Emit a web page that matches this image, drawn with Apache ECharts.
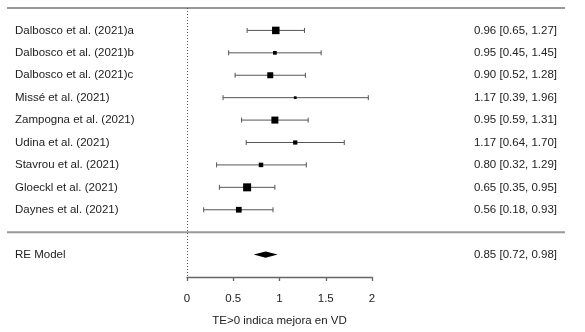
<!DOCTYPE html>
<html><head><meta charset="utf-8">
<script src="https://cdn.jsdelivr.net/npm/echarts@6/dist/echarts.min.js"></script>
<style>html,body{margin:0;padding:0;background:#fff}#c{width:585px;height:332px}</style>
</head><body><div id="c"></div>
<script>
const studies = ['Dalbosco et al. (2021)a','Dalbosco et al. (2021)b','Dalbosco et al. (2021)c','Missé et al. (2021)','Zampogna et al. (2021)','Udina et al. (2021)','Stavrou et al. (2021)','Gloeckl et al. (2021)','Daynes et al. (2021)'];
const estimates = [0.96,0.95,0.90,1.17,0.95,1.17,0.80,0.65,0.56];
const lowers    = [0.65,0.45,0.52,0.39,0.59,0.64,0.32,0.35,0.18];
const uppers    = [1.27,1.45,1.28,1.96,1.31,1.70,1.29,0.95,0.93];
const weights   = [15,7.5,12,5.5,14,8.5,9,16,11.5];
const reLabel = 'RE Model';
const reEstimate = 0.85, reLower = 0.72, reUpper = 0.98;
const xTickMin = 0, xTickMax = 2, xTickStep = 0.5;
const xTitle = 'TE>0 indica mejora en VD';

const FONT = '"Liberation Sans", Arial, sans-serif';
const TXT = '#222';
const FS = 11.5;
const k = studies.length;
const XMIN = -180/92.5, XMAX = 378/92.5;
const fmt = (e,l,h) => e.toFixed(2)+' ['+l.toFixed(2)+', '+h.toFixed(2)+']';

const studyData = studies.map((s,i)=>[estimates[i], k-i, lowers[i], uppers[i], weights[i], i]);

function textEl(x,y,t,align){
  return {type:'text', x:x, y:y, style:{text:t, fill:TXT, fontSize:FS, fontFamily:FONT, align:align, verticalAlign:'middle'}};
}

function renderStudy(params, api){
  const row = api.value(1);
  const i = api.value(5);
  const c = api.coord([api.value(0), row]);
  const l = api.coord([api.value(2), row]);
  const h = api.coord([api.value(3), row]);
  const left = api.coord([XMIN,row])[0];
  const right = api.coord([XMAX,row])[0];
  const s = api.value(4)*0.5;
  const cap = 2.5;
  const ls = {stroke:'#555', lineWidth:1};
  return {type:'group', children:[
    {type:'line', shape:{x1:l[0],y1:c[1],x2:h[0],y2:c[1]}, style:ls},
    {type:'line', shape:{x1:l[0],y1:c[1]-cap,x2:l[0],y2:c[1]+cap}, style:ls},
    {type:'line', shape:{x1:h[0],y1:c[1]-cap,x2:h[0],y2:c[1]+cap}, style:ls},
    {type:'rect', shape:{x:c[0]-s/2,y:c[1]-s/2,width:s,height:s}, style:{fill:'#000'}},
    textEl(left+8, c[1], studies[i], 'left'),
    textEl(right-8, c[1], fmt(estimates[i], lowers[i], uppers[i]), 'right')
  ]};
}

function renderRE(params, api){
  const row = api.value(1);
  const c = api.coord([api.value(0), row]);
  const l = api.coord([api.value(2), row]);
  const h = api.coord([api.value(3), row]);
  const top = api.coord([api.value(0), row+0.14]);
  const bot = api.coord([api.value(0), row-0.14]);
  const left = api.coord([XMIN,row])[0];
  const right = api.coord([XMAX,row])[0];
  return {type:'group', children:[
    {type:'polygon', shape:{points:[[l[0],c[1]],[c[0],top[1]],[h[0],c[1]],[c[0],bot[1]]]}, style:{fill:'#000'}},
    textEl(left+8, c[1], reLabel, 'left'),
    textEl(right-8, c[1], fmt(reEstimate, reLower, reUpper), 'right')
  ]};
}

function renderFrame(params, api){
  const tl = api.coord([XMIN, k+1]), tr = api.coord([XMAX, k+1]);
  const sl = api.coord([XMIN, 0]), sr = api.coord([XMAX, 0]);
  const z1 = api.coord([0, k+1]), z2 = api.coord([0, -2]);
  const lineStyle = {stroke:'#999', lineWidth:2};
  return {type:'group', children:[
    {type:'line', shape:{x1:tl[0],y1:tl[1],x2:tr[0],y2:tr[1]}, style:lineStyle},
    {type:'line', shape:{x1:sl[0],y1:sl[1],x2:sr[0],y2:sr[1]}, style:lineStyle},
    {type:'line', shape:{x1:Math.round(z1[0])+0.5,y1:z1[1],x2:Math.round(z2[0])+0.5,y2:z2[1]}, style:{stroke:'#555', lineWidth:1, lineDash:[1,2]}}
  ]};
}

const chart = echarts.init(document.getElementById('c'), null, {renderer:'canvas'});
chart.setOption({
  animation:false,
  backgroundColor:'#fff',
  grid:[
    {left:7, right:20, top:8, bottom:55},
    {left:187, width:185, top:8, bottom:55}
  ],
  xAxis:[
    {gridIndex:0, type:'value', min:XMIN, max:XMAX, show:false},
    {gridIndex:1, type:'value', min:xTickMin, max:xTickMax, interval:xTickStep,
     axisLine:{show:true, lineStyle:{color:'#666', width:1.3}},
     axisTick:{show:true, length:4, lineStyle:{color:'#666', width:1.3}},
     splitLine:{show:false},
     axisLabel:{color:TXT, fontSize:FS, fontFamily:FONT, margin:16, formatter:v=>String(v)},
     name:xTitle, nameLocation:'middle', nameGap:38,
     nameTextStyle:{color:TXT, fontSize:FS, fontFamily:FONT}}
  ],
  yAxis:[
    {gridIndex:0, type:'value', min:-2, max:k+1, show:false},
    {gridIndex:1, type:'value', min:0, max:1, show:false}
  ],
  series:[
    {type:'custom', xAxisIndex:0, yAxisIndex:0, renderItem:renderFrame, data:[[0,0]], silent:true},
    {type:'custom', xAxisIndex:0, yAxisIndex:0, renderItem:renderStudy, data:studyData, silent:true},
    {type:'custom', xAxisIndex:0, yAxisIndex:0, renderItem:renderRE, data:[[reEstimate,-1,reLower,reUpper]], silent:true}
  ]
});
</script></body></html>
